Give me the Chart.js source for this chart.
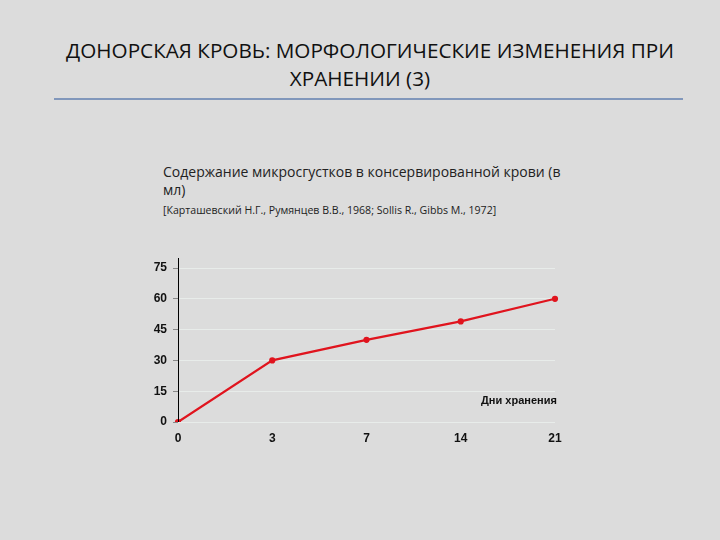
<!DOCTYPE html>
<html>
<head>
<meta charset="utf-8">
<script src="https://cdn.jsdelivr.net/npm/chart.js@4"></script>
<style>
  body { margin: 0; background: #dcdcdc; }
  #page { position: relative; width: 720px; height: 540px; background: #dcdcdc; overflow: hidden; font-family: "Open Sans", sans-serif; }
  .title { position: absolute; text-align: center; font-size: 20.7px; color: #111; white-space: nowrap; }
  #rule { position: absolute; left: 54px; top: 98px; width: 629px; height: 2px; background: #8197bb; }
  .sub { position: absolute; left: 163px; color: #222; white-space: nowrap; }
  #wrap { position: absolute; left: 140px; top: 250px; width: 440px; height: 200px; }
  #daysLbl { position: absolute; left: 481px; top: 394px; font: bold 11px "Liberation Sans", Arial, sans-serif; color: #111; }
</style>
</head>
<body>
<div id="page">
  <div class="title" style="top:36px;left:0;width:740px">ДОНОРСКАЯ КРОВЬ: МОРФОЛОГИЧЕСКИЕ ИЗМЕНЕНИЯ ПРИ</div>
  <div class="title" style="top:64px;left:0;width:720px">ХРАНЕНИИ (3)</div>
  <div id="rule"></div>
  <div class="sub" style="top:162px;font-size:14px">Содержание микросгустков в консервированной крови (в</div>
  <div class="sub" style="top:180px;font-size:14px">мл)</div>
  <div class="sub" style="top:203px;font-size:10.6px">[Карташевский Н.Г., Румянцев В.В., 1968; Sollis R., Gibbs M., 1972]</div>
  <div id="wrap"><canvas id="chart"></canvas></div>
  <div id="daysLbl">Дни хранения</div>
</div>
<script>
const days = ["0", "3", "7", "14", "21"];
const clots = [0, 30, 40, 49, 60];
const yTicks = [0, 15, 30, 45, 60, 75];

// axis line in the original runs a little above the top tick
const axisLine = {
    id: 'axisLine',
    afterDraw(chart) {
        const { ctx, chartArea } = chart;
        ctx.save();
        ctx.strokeStyle = '#000';
        ctx.lineWidth = 1;
        ctx.beginPath();
        ctx.moveTo(chartArea.left + 0.5, chartArea.top - 10);
        ctx.lineTo(chartArea.left + 0.5, chartArea.bottom);
        ctx.stroke();
        ctx.restore();
    }
};

const ctx = document.getElementById('chart').getContext('2d');
new Chart(ctx, {
    type: 'line',
    data: {
        labels: days,
        datasets: [{
            data: clots,
            borderColor: '#e0141e',
            backgroundColor: '#e0141e',
            borderWidth: 2.2,
            pointRadius: 2,
            tension: 0,
            fill: false
        }]
    },
    options: {
        responsive: true,
        maintainAspectRatio: false,
        animation: false,
        layout: { padding: { top: 18, right: 25, bottom: 0, left: 0 } },
        plugins: { legend: { display: false }, tooltip: { enabled: false } },
        scales: {
            x: {
                offset: false,
                grid: { display: false, drawTicks: false },
                border: { display: false },
                ticks: { color: '#111', font: { family: 'Liberation Sans', size: 12, weight: 'bold' }, padding: 9, maxRotation: 0 },
                afterFit: s => { s.height = 28; }
            },
            y: {
                min: 0,
                max: 75,
                afterBuildTicks: s => { s.ticks = yTicks.map(v => ({ value: v })); },
                grid: { color: '#e8ecea', lineWidth: 1, tickLength: 5, tickColor: '#888' },
                border: { display: false },
                ticks: { color: '#111', font: { family: 'Liberation Sans', size: 12, weight: 'bold' }, padding: 6 },
                afterFit: s => { s.width = 38; }
            }
        }
    },
    plugins: [axisLine]
});
</script>
</body>
</html>
